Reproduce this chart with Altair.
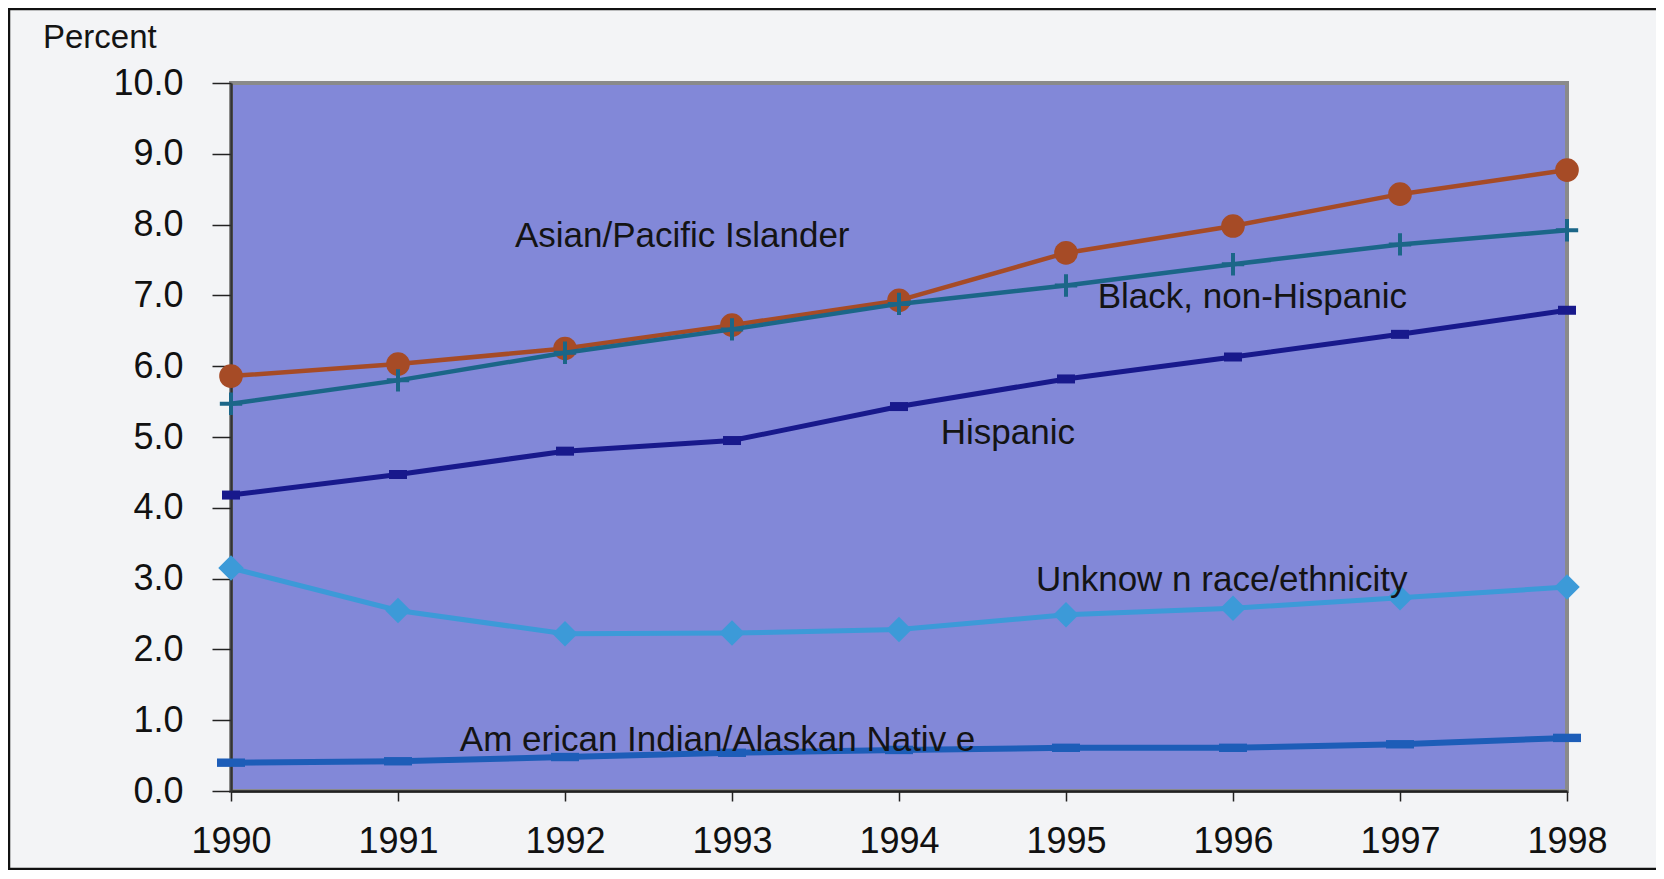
import altair as alt
import pandas as pd

years = [1990, 1991, 1992, 1993, 1994, 1995, 1996, 1997, 1998]
asian = [5.86, 6.03, 6.25, 6.58, 6.93, 7.60, 7.98, 8.43, 8.77]
black = [5.47, 5.80, 6.19, 6.52, 6.88, 7.14, 7.44, 7.72, 7.92]
hispanic = [4.18, 4.47, 4.80, 4.95, 5.43, 5.82, 6.13, 6.45, 6.79]
unknown = [3.15, 2.55, 2.22, 2.23, 2.28, 2.49, 2.58, 2.73, 2.88]
aian = [0.40, 0.42, 0.48, 0.54, 0.58, 0.61, 0.61, 0.66, 0.75]
y_ticks = [0, 1, 2, 3, 4, 5, 6, 7, 8, 9, 10]

series_names = ["Asian/Pacific Islander", "Black, non-Hispanic", "Hispanic",
                "Unknown race/ethnicity", "American Indian/Alaskan Native"]
label_texts = ["Asian/Pacific Islander", "Black, non-Hispanic", "Hispanic",
               "Unknow n race/ethnicity", "Am erican Indian/Alaskan Nativ e"]
label_x = [1991.70, 1995.19, 1994.25, 1994.82, 1991.37]
label_y = [7.68, 6.82, 4.90, 2.82, 0.57]

FONT = "Liberation Sans"

series_values = dict(zip(series_names, [asian, black, hispanic, unknown, aian]))

styles = {
    "Unknown race/ethnicity": dict(color="#3c9ad8", width=5, shape="diamond", size=650, filled=True, sw=0),
    "American Indian/Alaskan Native": dict(color="#1d5db8", width=6, shape="M-1,-0.3H1V0.3H-1Z", size=784, filled=True, sw=0),
    "Hispanic": dict(color="#18198c", width=5, shape="M-1,-0.5H1V0.5H-1Z", size=324, filled=True, sw=0),
    "Asian/Pacific Islander": dict(color="#a64b26", width=4.5, shape="circle", size=560, filled=True, sw=0),
    "Black, non-Hispanic": dict(color="#1b6688", width=4.5, shape="M-1,0H1M0,-1V1", size=500, filled=False, sw=4),
}
draw_order = ["Unknown race/ethnicity", "American Indian/Alaskan Native", "Hispanic",
              "Asian/Pacific Islander", "Black, non-Hispanic"]

x_scale = alt.Scale(domain=[1990, 1998], nice=False, zero=False)
y_scale = alt.Scale(domain=[0, 10], nice=False)

x_axis = alt.Axis(values=years, format="d", title=None, grid=False,
                  labelFont=FONT, labelFontSize=36, labelColor="#111111",
                  tickSize=10, tickColor="#222222", tickWidth=1.5,
                  labelPadding=23, domainColor="#222222", domainWidth=2.5,
                  labelFlush=False, labelOverlap=False)
y_axis = alt.Axis(values=y_ticks, format=".1f", title=None,
                  grid=False, labelFont=FONT, labelFontSize=36, labelColor="#111111",
                  tickSize=19, tickColor="#222222", tickWidth=1.5,
                  labelPadding=29, domainColor="#333333", domainWidth=2.5,
                  labelFlush=False, labelOverlap=False)

def X(field):
    return alt.X(field, scale=x_scale, axis=x_axis)

def Y(field):
    return alt.Y(field, scale=y_scale, axis=y_axis)

layers = []
for name in draw_order:
    st = styles[name]
    df = pd.DataFrame({"year": years, "value": series_values[name], "series": name})
    base = alt.Chart(df)
    line = base.mark_line(color=st["color"], strokeWidth=st["width"], clip=False).encode(
        x=X("year:Q"), y=Y("value:Q"))
    if st["filled"]:
        pts = base.mark_point(shape=st["shape"], size=st["size"], filled=True,
                              fill=st["color"], color=st["color"], opacity=1, clip=False)
    else:
        pts = base.mark_point(shape=st["shape"], size=st["size"], filled=False,
                              stroke=st["color"], strokeWidth=st["sw"], opacity=1, clip=False)
    pts = pts.encode(x=X("year:Q"), y=Y("value:Q"))
    layers += [line, pts]

labels_df = pd.DataFrame({"year": label_x, "value": label_y, "text": label_texts})
labels = alt.Chart(labels_df).mark_text(
    align="left", baseline="alphabetic", font=FONT, fontSize=35, color="#141414"
).encode(x=X("year:Q"), y=Y("value:Q"), text="text:N")

title_df = pd.DataFrame({"t": ["Percent"]})
ptitle = alt.Chart(title_df).mark_text(
    align="left", baseline="alphabetic", font=FONT, fontSize=33, color="#141414"
).encode(x=alt.value(-188), y=alt.value(-35), text="t:N")

frame = alt.Chart(title_df).mark_rect(
    fill=None, stroke="#111111", strokeWidth=2.5, clip=False
).encode(x=alt.value(-222), x2=alt.value(1500), y=alt.value(-74), y2=alt.value(786))

chart = alt.layer(*layers, labels, ptitle, frame).properties(
    width=1336, height=708,
    autosize=alt.AutoSizeParams(type="none"),
    padding={"left": 223, "top": 75, "right": 89, "bottom": 79},
).configure(
    background="#f3f4f6"
).configure_view(
    fill="#8288d8", stroke="#8a8a8a", strokeWidth=4
)

chart.save("out.html", embed_options={"renderer": "svg", "actions": False})
